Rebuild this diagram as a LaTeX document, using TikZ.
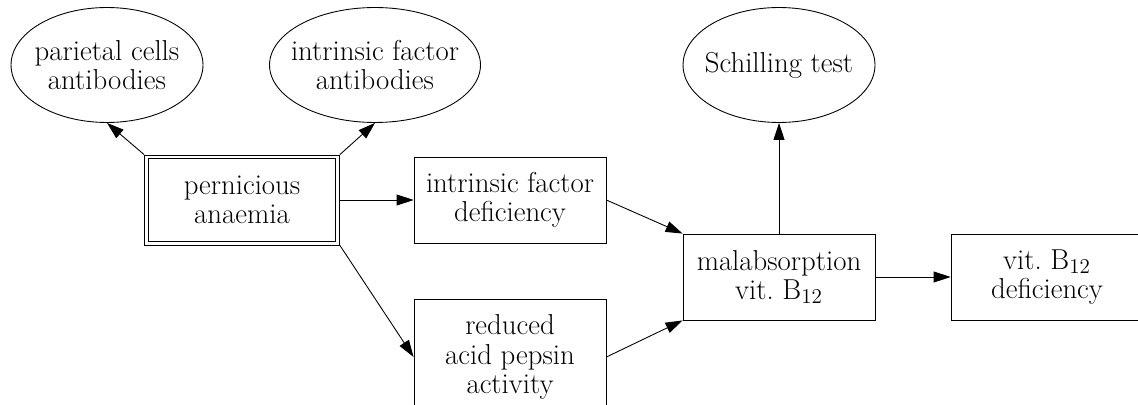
\documentclass[tikz,border=0pt]{standalone}
\usepackage{tikz}
\usetikzlibrary{arrows.meta,shapes.geometric}

\begin{document}
\begin{tikzpicture}[x=0.02cm,y=-0.02cm,
			txt/.style={align=center,font=\fontsize{16.4}{16.6}\selectfont,inner sep=0pt},
			box/.style={txt,rectangle,draw=black,line width=0.5pt,minimum width=3.84cm,minimum height=1.72cm},
			oval/.style={txt,ellipse,draw=black,line width=0.5pt,inner xsep=-20pt,minimum width=3.84cm,minimum height=2.3cm},
			link/.style={draw=black,line width=0.5pt,-{Triangle[length=0.34cm,width=0.22cm]}}]
		\clip (0,0) rectangle (1138,405);
		\path 	(107,65) 	node 	(pcab) [oval] {parietal cells\\antibodies}
		        (375,65) 	node 	(ifab) [oval, minimum width=4.22cm] {intrinsic factor\\antibodies}
		        (779,65) 	node 	(st) [oval] {Schilling test}
		        (242,200) 	node 	(pa) [box, minimum width=3.9cm, minimum height=1.8cm] {pernicious\\anaemia}
		        (510,200) 	node 	(ifd) [box] {intrinsic factor\\deficiency}
		        (510,357) 	node 	(rapa) [box, minimum height=2.3cm] {reduced\\acid pepsin\\activity}
		        (779,277) 	node 	(mal) [box] {malabsorption\\vit.~B$_{12}$}
		        (1047,277) 	node 	(vbd) [box] {vit.~B$_{12}$\\deficiency};
		% inner border of the double box
		\draw [line width=0.5pt] ([shift={(2.3pt,-2.3pt)}]pa.north west) rectangle ([shift={(-2.3pt,2.3pt)}]pa.south east);
		\draw [link] (pa.north west) -- (pcab.south);
		\draw [link] (pa.north east) -- (ifab.south);
		\draw [link] (pa.east) -- (ifd.west);
		\draw [link] (pa.south east) -- (rapa.west);
		\draw [link] (ifd.east) -- (mal.north west);
		\draw [link] (rapa.east) -- (mal.south west);
		\draw [link] (mal.north) -- (st.south);
		\draw [link] (mal.east) -- (vbd.west);
	\end{tikzpicture}
\end{document}
